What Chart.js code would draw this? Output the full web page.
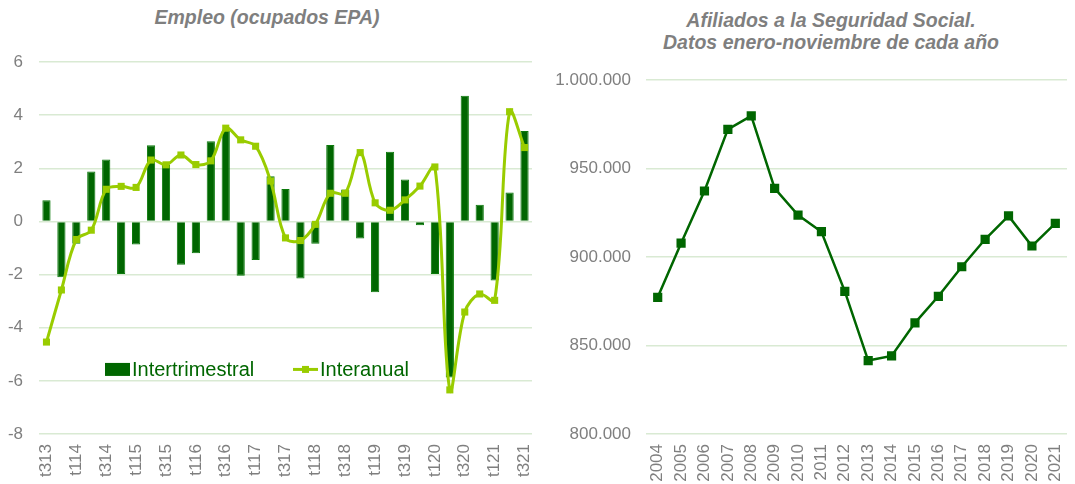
<!DOCTYPE html>
<html>
<head>
<meta charset="utf-8">
<script src="https://cdn.jsdelivr.net/npm/chart.js@4/dist/chart.umd.min.js"></script>
<style>
  html, body { margin: 0; padding: 0; background: #fff; }
  body { width: 1075px; height: 484px; position: relative; overflow: hidden; font-family: "Liberation Sans", Arial, sans-serif; }
  .box { position: absolute; top: 0; height: 484px; }
  .title { position: absolute; color: #7f7f7f; font-weight: bold; font-style: italic; font-size: 19.5px; text-align: center; line-height: 22px; }
</style>
</head>
<body>
<div class="title" style="left:117px; top:6px; width:300px;">Empleo (ocupados EPA)</div>
<div class="title" style="left:630px; top:9px; width:402px;">Afiliados a la Seguridad Social.<br>Datos enero-noviembre de cada año</div>
<div class="box" style="left:0; width:540px;"><canvas id="empleo"></canvas></div>
<div class="box" style="left:540px; width:535px;"><canvas id="afiliados"></canvas></div>

<script>
const quarters = ["t313","t413","t114","t214","t314","t414","t115","t215","t315","t415",
                  "t116","t216","t316","t416","t117","t217","t317","t417","t118","t218",
                  "t318","t418","t119","t219","t319","t419","t120","t220","t320","t420",
                  "t121","t221","t321"];
const intertrimestral = [0.80, -2.10, -0.84, 1.88, 2.33, -1.98, -0.87, 2.87, 2.14, -1.63,
                         -1.20, 3.02, 3.40, -2.04, -1.45, 1.70, 1.22, -2.15, -0.84, 2.88,
                         1.20, -0.64, -2.67, 2.62, 1.58, -0.14, -1.98, -5.87, 4.73, 0.63,
                         -2.22, 1.09, 3.40];
const interanual = [-4.54, -2.58, -0.68, -0.33, 1.21, 1.32, 1.28, 2.31, 2.13, 2.50,
                    2.14, 2.28, 3.51, 3.07, 2.83, 1.52, -0.62, -0.72, -0.11, 1.06,
                    1.06, 2.59, 0.70, 0.42, 0.81, 1.33, 2.05, -6.34, -3.41, -2.73,
                    -2.97, 4.13, 2.78];

const years = ["2004","2005","2006","2007","2008","2009","2010","2011","2012",
               "2013","2014","2015","2016","2017","2018","2019","2020","2021"];
const afiliados = [877200, 907800, 937300, 972100, 979700, 938800, 923700, 914300, 880600,
                   841500, 844100, 862800, 877800, 894500, 910000, 923200, 906200, 919000];

const gridColor = "#d9ead3";
const tickColor = "#7f7f7f";
const darkGreen = "#006600";
const lightGreen = "#99cc00";

Chart.defaults.font.family = "'Liberation Sans', Arial, sans-serif";
Chart.defaults.animation = false;

// no extra side padding from the rotated labels
function fixXAxis(s) {
  s.height = 50;
  s.paddingLeft = 0;
  s.paddingRight = 0;
}

// legend drawn inside the plot, like the original
const innerLegend = {
  id: "innerLegend",
  afterDraw(chart) {
    const ctx = chart.ctx;
    const y = chart.scales.y.getPixelForValue(-5.57);
    const x0 = chart.chartArea.left + 66;
    const x1 = chart.chartArea.left + 254;
    ctx.save();
    ctx.fillStyle = darkGreen;
    ctx.fillRect(x0, y - 6.5, 25, 13);
    ctx.strokeStyle = lightGreen;
    ctx.lineWidth = 3;
    ctx.beginPath();
    ctx.moveTo(x1, y);
    ctx.lineTo(x1 + 25, y);
    ctx.stroke();
    ctx.fillStyle = lightGreen;
    ctx.fillRect(x1 + 9, y - 3.5, 7, 7);
    ctx.fillStyle = darkGreen;
    ctx.font = "20px 'Liberation Sans', Arial, sans-serif";
    ctx.textBaseline = "middle";
    ctx.fillText("Intertrimestral", x0 + 27, y + 1);
    ctx.fillText("Interanual", x1 + 27, y + 1);
    ctx.restore();
  }
};

new Chart(document.getElementById("empleo"), {
  type: "bar",
  data: {
    labels: quarters,
    datasets: [
      {
        type: "bar",
        label: "Intertrimestral",
        data: intertrimestral,
        backgroundColor: darkGreen,
        borderColor: "#0b7a0b",
        borderWidth: 1,
        categoryPercentage: 1,
        barPercentage: 0.55,
        order: 2
      },
      {
        type: "line",
        label: "Interanual",
        data: interanual,
        borderColor: lightGreen,
        backgroundColor: lightGreen,
        borderWidth: 3,
        tension: 0.35,
        pointStyle: "rect",
        pointRadius: 5,
        pointBorderWidth: 0,
        order: 1
      }
    ]
  },
  options: {
    responsive: true,
    maintainAspectRatio: false,
    layout: { padding: { top: 62, right: 8, left: 0, bottom: 0 } },
    plugins: { legend: { display: false }, tooltip: { enabled: false } },
    scales: {
      x: {
        grid: { display: false, drawTicks: false },
        border: { display: false },
        ticks: {
          color: tickColor,
          font: { size: 17 },
          padding: 10,
          autoSkip: false,
          minRotation: 90,
          maxRotation: 90,
          callback: function (v, i) { return i % 2 === 0 ? quarters[i] : ""; }
        },
        afterFit: fixXAxis
      },
      y: {
        min: -8,
        max: 6,
        ticks: { stepSize: 2, color: tickColor, font: { size: 17 }, padding: 16 },
        grid: { color: gridColor, lineWidth: 1.5, drawTicks: false },
        border: { display: false },
        afterFit: function (s) { s.width = 39; }
      }
    }
  },
  plugins: [innerLegend]
});

new Chart(document.getElementById("afiliados"), {
  type: "line",
  data: {
    labels: years,
    datasets: [{
      label: "Afiliados",
      data: afiliados,
      borderColor: darkGreen,
      backgroundColor: darkGreen,
      borderWidth: 2.5,
      tension: 0,
      pointStyle: "rect",
      pointRadius: 6.5,
      pointBorderWidth: 0
    }]
  },
  options: {
    responsive: true,
    maintainAspectRatio: false,
    layout: { padding: { top: 80, right: 8, left: 0, bottom: 0 } },
    plugins: { legend: { display: false }, tooltip: { enabled: false } },
    scales: {
      x: {
        offset: true,
        grid: { display: false, drawTicks: false },
        border: { display: false },
        ticks: {
          color: tickColor,
          font: { size: 17 },
          padding: 10,
          autoSkip: false,
          minRotation: 90,
          maxRotation: 90
        },
        afterFit: fixXAxis
      },
      y: {
        min: 800000,
        max: 1000000,
        ticks: {
          stepSize: 50000,
          color: tickColor,
          font: { size: 17 },
          padding: 15,
          callback: function (v) { return String(v).replace(/\B(?=(\d{3})+(?!\d))/g, "."); }
        },
        grid: { color: gridColor, lineWidth: 1.5, drawTicks: false },
        border: { display: false },
        afterFit: function (s) { s.width = 106; }
      }
    }
  }
});
</script>
</body>
</html>
